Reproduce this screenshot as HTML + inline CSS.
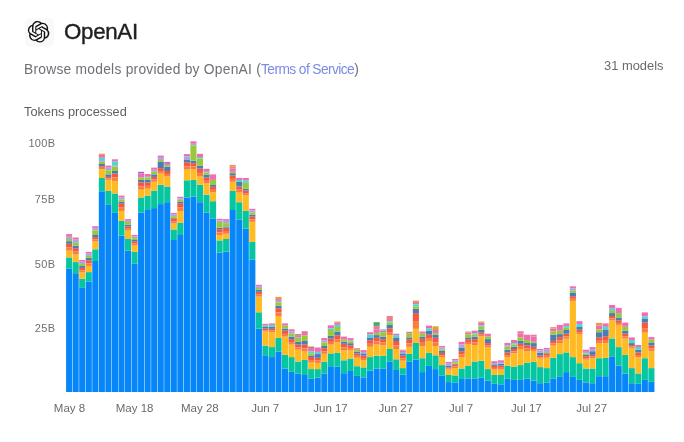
<!DOCTYPE html>
<html><head><meta charset="utf-8">
<style>
html,body{margin:0;padding:0;background:#fff;}
body{width:684px;height:442px;overflow:hidden;position:relative;font-family:"Liberation Sans",sans-serif;}
.abs{position:absolute;white-space:nowrap;will-change:transform;}
#logobox{left:24.5px;top:17.5px;width:28.5px;height:28.5px;border-radius:5px;background:#f9f9f9;}
#title{left:63.6px;top:19.5px;font-size:22.3px;letter-spacing:-0.3px;color:#1f1f1f;-webkit-text-stroke:0.4px #1f1f1f;line-height:24px;}
#sub{left:24.3px;top:61px;font-size:13.8px;letter-spacing:0.25px;color:#6f6f77;line-height:17px;}
#sub span{color:#7b8ae4;letter-spacing:-0.6px;}
#count{right:20.3px;top:57.8px;font-size:12.9px;color:#6a6a70;line-height:15px;}
#tok{left:24.2px;top:104px;font-size:12.75px;color:#5f5f5f;line-height:15px;}
svg{position:absolute;left:0;top:0;will-change:transform;}
.yl{font-size:11px;fill:#6f6f6f;letter-spacing:0.3px;}
.xl{font-size:11.5px;fill:#6a6a6a;}
</style></head><body>
<div class="abs" id="logobox"></div>
<svg width="684" height="442" viewBox="0 0 684 442">
<g transform="translate(27.8,21) scale(0.9)"><path fill="#111" d="M22.2819 9.8211a5.9847 5.9847 0 0 0-.5157-4.9108 6.0462 6.0462 0 0 0-6.5098-2.9A6.0651 6.0651 0 0 0 4.9807 4.1818a5.9847 5.9847 0 0 0-3.9977 2.9 6.0462 6.0462 0 0 0 .7427 7.0966 5.98 5.98 0 0 0 .511 4.9107 6.051 6.051 0 0 0 6.5146 2.9001A5.9847 5.9847 0 0 0 13.2599 24a6.0557 6.0557 0 0 0 5.7718-4.2058 5.9894 5.9894 0 0 0 3.9977-2.9001 6.0557 6.0557 0 0 0-.7475-7.0729zm-9.022 12.6081a4.4755 4.4755 0 0 1-2.8764-1.0408l.1419-.0804 4.7783-2.7582a.7948.7948 0 0 0 .3927-.6813v-6.7369l2.02 1.1686a.071.071 0 0 1 .038.052v5.5826a4.504 4.504 0 0 1-4.4945 4.4944zm-9.6607-4.1254a4.4708 4.4708 0 0 1-.5346-3.0137l.142.0852 4.783 2.7582a.7712.7712 0 0 0 .7806 0l5.8428-3.3685v2.3324a.0804.0804 0 0 1-.0332.0615L9.74 19.9502a4.4992 4.4992 0 0 1-6.1408-1.6464zM2.3408 7.8956a4.485 4.485 0 0 1 2.3655-1.9728V11.6a.7664.7664 0 0 0 .3879.6765l5.8144 3.3543-2.0201 1.1685a.0757.0757 0 0 1-.071 0l-4.8303-2.7865A4.504 4.504 0 0 1 2.3408 7.872zm16.5963 3.8558L13.1038 8.364 15.1192 7.2a.0757.0757 0 0 1 .071 0l4.8303 2.7913a4.4944 4.4944 0 0 1-.6765 8.1042v-5.6772a.79.79 0 0 0-.407-.667zm2.0107-3.0231l-.142-.0852-4.7735-2.7818a.7759.7759 0 0 0-.7854 0L9.409 9.2297V6.8974a.0662.0662 0 0 1 .0284-.0615l4.8303-2.7866a4.4992 4.4992 0 0 1 6.6802 4.66zM8.3065 12.863l-2.02-1.1638a.0804.0804 0 0 1-.038-.0567V6.0742a4.4992 4.4992 0 0 1 7.3757-3.4537l-.142.0805L8.704 5.459a.7948.7948 0 0 0-.3927.6813zm1.0976-2.3654l2.602-1.4998 2.6069 1.4998v2.9994l-2.5974 1.5-2.6067-1.5Z"/></g>
<g font-family="Liberation Sans, sans-serif">
<text class="yl" x="55.3" y="147" text-anchor="end">100B</text>
<text class="yl" x="55.3" y="203" text-anchor="end">75B</text>
<text class="yl" x="55.3" y="267.5" text-anchor="end">50B</text>
<text class="yl" x="55.3" y="332" text-anchor="end">25B</text>
<text class="xl" x="69.5" y="412" text-anchor="middle">May 8</text>
<text class="xl" x="134.6" y="412" text-anchor="middle">May 18</text>
<text class="xl" x="199.9" y="412" text-anchor="middle">May 28</text>
<text class="xl" x="265.2" y="412" text-anchor="middle">Jun 7</text>
<text class="xl" x="330.5" y="412" text-anchor="middle">Jun 17</text>
<text class="xl" x="395.8" y="412" text-anchor="middle">Jun 27</text>
<text class="xl" x="461.1" y="412" text-anchor="middle">Jul 7</text>
<text class="xl" x="526.4" y="412" text-anchor="middle">Jul 17</text>
<text class="xl" x="591.7" y="412" text-anchor="middle">Jul 27</text>
</g>
<g>
<rect x="66.10" y="268.80" width="6.1" height="123.20" fill="#0686f8"/>
<rect x="66.10" y="257.40" width="6.1" height="11.40" fill="#05c6a0"/>
<rect x="66.10" y="250.70" width="6.1" height="6.70" fill="#ffbb24"/>
<rect x="66.10" y="243.80" width="6.1" height="3.79" fill="#f4593f"/>
<rect x="66.10" y="247.59" width="6.1" height="3.10" fill="#fa7d3d"/>
<rect x="66.10" y="241.20" width="6.1" height="2.60" fill="#4b7cb2"/>
<rect x="66.10" y="234.10" width="6.1" height="2.70" fill="#f26cb4"/>
<rect x="66.10" y="236.80" width="6.1" height="2.20" fill="#a7a9dc"/>
<rect x="66.10" y="239.00" width="6.1" height="2.20" fill="#96c93d"/>
<rect x="72.64" y="273.20" width="6.1" height="118.80" fill="#0686f8"/>
<rect x="72.64" y="262.10" width="6.1" height="11.10" fill="#05c6a0"/>
<rect x="72.64" y="254.40" width="6.1" height="7.70" fill="#ffbb24"/>
<rect x="72.64" y="248.20" width="6.1" height="3.41" fill="#f4593f"/>
<rect x="72.64" y="251.61" width="6.1" height="2.79" fill="#fa7d3d"/>
<rect x="72.64" y="245.60" width="6.1" height="2.60" fill="#4b7cb2"/>
<rect x="72.64" y="237.50" width="6.1" height="2.20" fill="#f26cb4"/>
<rect x="72.64" y="239.70" width="6.1" height="3.20" fill="#a7a9dc"/>
<rect x="72.64" y="242.90" width="6.1" height="2.70" fill="#96c93d"/>
<rect x="79.18" y="287.90" width="6.1" height="104.10" fill="#0686f8"/>
<rect x="79.18" y="278.70" width="6.1" height="9.20" fill="#05c6a0"/>
<rect x="79.18" y="272.40" width="6.1" height="6.30" fill="#ffbb24"/>
<rect x="79.18" y="267.90" width="6.1" height="2.48" fill="#f4593f"/>
<rect x="79.18" y="270.38" width="6.1" height="2.02" fill="#fa7d3d"/>
<rect x="79.18" y="265.90" width="6.1" height="2.00" fill="#4b7cb2"/>
<rect x="79.18" y="260.00" width="6.1" height="1.80" fill="#f26cb4"/>
<rect x="79.18" y="261.80" width="6.1" height="2.20" fill="#a7a9dc"/>
<rect x="79.18" y="264.00" width="6.1" height="1.90" fill="#96c93d"/>
<rect x="85.73" y="281.60" width="6.1" height="110.40" fill="#0686f8"/>
<rect x="85.73" y="272.10" width="6.1" height="9.50" fill="#05c6a0"/>
<rect x="85.73" y="265.90" width="6.1" height="6.20" fill="#ffbb24"/>
<rect x="85.73" y="260.30" width="6.1" height="3.08" fill="#f4593f"/>
<rect x="85.73" y="263.38" width="6.1" height="2.52" fill="#fa7d3d"/>
<rect x="85.73" y="257.60" width="6.1" height="2.70" fill="#4b7cb2"/>
<rect x="85.73" y="251.90" width="6.1" height="1.80" fill="#f26cb4"/>
<rect x="85.73" y="253.70" width="6.1" height="2.20" fill="#a7a9dc"/>
<rect x="85.73" y="255.90" width="6.1" height="1.70" fill="#96c93d"/>
<rect x="92.27" y="261.00" width="6.1" height="131.00" fill="#0686f8"/>
<rect x="92.27" y="249.30" width="6.1" height="11.70" fill="#05c6a0"/>
<rect x="92.27" y="241.50" width="6.1" height="7.80" fill="#ffbb24"/>
<rect x="92.27" y="237.10" width="6.1" height="2.42" fill="#f4593f"/>
<rect x="92.27" y="239.52" width="6.1" height="1.98" fill="#fa7d3d"/>
<rect x="92.27" y="235.00" width="6.1" height="2.10" fill="#4b7cb2"/>
<rect x="92.27" y="226.20" width="6.1" height="2.00" fill="#f26cb4"/>
<rect x="92.27" y="228.20" width="6.1" height="2.40" fill="#a7a9dc"/>
<rect x="92.27" y="230.60" width="6.1" height="4.40" fill="#96c93d"/>
<rect x="98.81" y="191.30" width="6.1" height="200.70" fill="#0686f8"/>
<rect x="98.81" y="178.00" width="6.1" height="13.30" fill="#05c6a0"/>
<rect x="98.81" y="169.10" width="6.1" height="8.90" fill="#ffbb24"/>
<rect x="98.81" y="166.30" width="6.1" height="1.54" fill="#f4593f"/>
<rect x="98.81" y="167.84" width="6.1" height="1.26" fill="#fa7d3d"/>
<rect x="98.81" y="164.00" width="6.1" height="2.30" fill="#4b7cb2"/>
<rect x="98.81" y="153.70" width="6.1" height="1.20" fill="#d9a33b"/>
<rect x="98.81" y="154.90" width="6.1" height="2.90" fill="#f26cb4"/>
<rect x="98.81" y="157.80" width="6.1" height="2.20" fill="#4fd6cf"/>
<rect x="98.81" y="160.00" width="6.1" height="1.80" fill="#a7a9dc"/>
<rect x="98.81" y="161.80" width="6.1" height="2.20" fill="#96c93d"/>
<rect x="105.35" y="204.90" width="6.1" height="187.10" fill="#0686f8"/>
<rect x="105.35" y="190.90" width="6.1" height="14.00" fill="#05c6a0"/>
<rect x="105.35" y="179.90" width="6.1" height="11.00" fill="#ffbb24"/>
<rect x="105.35" y="176.90" width="6.1" height="1.65" fill="#f4593f"/>
<rect x="105.35" y="178.55" width="6.1" height="1.35" fill="#fa7d3d"/>
<rect x="105.35" y="174.40" width="6.1" height="2.50" fill="#4b7cb2"/>
<rect x="105.35" y="165.60" width="6.1" height="2.10" fill="#f26cb4"/>
<rect x="105.35" y="167.70" width="6.1" height="2.60" fill="#a7a9dc"/>
<rect x="105.35" y="170.30" width="6.1" height="4.10" fill="#96c93d"/>
<rect x="111.89" y="212.90" width="6.1" height="179.10" fill="#0686f8"/>
<rect x="111.89" y="193.50" width="6.1" height="19.40" fill="#05c6a0"/>
<rect x="111.89" y="180.90" width="6.1" height="12.60" fill="#ffbb24"/>
<rect x="111.89" y="173.50" width="6.1" height="4.07" fill="#f4593f"/>
<rect x="111.89" y="177.57" width="6.1" height="3.33" fill="#fa7d3d"/>
<rect x="111.89" y="171.00" width="6.1" height="2.50" fill="#4b7cb2"/>
<rect x="111.89" y="159.30" width="6.1" height="2.20" fill="#f26cb4"/>
<rect x="111.89" y="161.50" width="6.1" height="3.60" fill="#4fd6cf"/>
<rect x="111.89" y="165.10" width="6.1" height="1.50" fill="#a7a9dc"/>
<rect x="111.89" y="166.60" width="6.1" height="4.40" fill="#96c93d"/>
<rect x="118.44" y="235.70" width="6.1" height="156.30" fill="#0686f8"/>
<rect x="118.44" y="220.90" width="6.1" height="14.80" fill="#05c6a0"/>
<rect x="118.44" y="211.00" width="6.1" height="9.90" fill="#ffbb24"/>
<rect x="118.44" y="203.70" width="6.1" height="4.02" fill="#f4593f"/>
<rect x="118.44" y="207.72" width="6.1" height="3.28" fill="#fa7d3d"/>
<rect x="118.44" y="201.80" width="6.1" height="1.90" fill="#4b7cb2"/>
<rect x="118.44" y="195.60" width="6.1" height="2.00" fill="#f26cb4"/>
<rect x="118.44" y="197.60" width="6.1" height="1.80" fill="#a7a9dc"/>
<rect x="118.44" y="199.40" width="6.1" height="2.40" fill="#96c93d"/>
<rect x="124.98" y="250.70" width="6.1" height="141.30" fill="#0686f8"/>
<rect x="124.98" y="239.00" width="6.1" height="11.70" fill="#05c6a0"/>
<rect x="124.98" y="230.60" width="6.1" height="8.40" fill="#ffbb24"/>
<rect x="124.98" y="226.50" width="6.1" height="2.25" fill="#f4593f"/>
<rect x="124.98" y="228.75" width="6.1" height="1.84" fill="#fa7d3d"/>
<rect x="124.98" y="224.70" width="6.1" height="1.80" fill="#4b7cb2"/>
<rect x="124.98" y="219.10" width="6.1" height="1.70" fill="#f26cb4"/>
<rect x="124.98" y="220.80" width="6.1" height="1.20" fill="#a7a9dc"/>
<rect x="124.98" y="222.00" width="6.1" height="2.70" fill="#96c93d"/>
<rect x="131.52" y="263.80" width="6.1" height="128.20" fill="#0686f8"/>
<rect x="131.52" y="251.80" width="6.1" height="12.00" fill="#05c6a0"/>
<rect x="131.52" y="245.60" width="6.1" height="6.20" fill="#ffbb24"/>
<rect x="131.52" y="241.20" width="6.1" height="2.42" fill="#f4593f"/>
<rect x="131.52" y="243.62" width="6.1" height="1.98" fill="#fa7d3d"/>
<rect x="131.52" y="240.00" width="6.1" height="1.20" fill="#4b7cb2"/>
<rect x="131.52" y="235.00" width="6.1" height="1.60" fill="#f26cb4"/>
<rect x="131.52" y="236.60" width="6.1" height="1.60" fill="#a7a9dc"/>
<rect x="131.52" y="238.20" width="6.1" height="1.80" fill="#96c93d"/>
<rect x="138.06" y="212.50" width="6.1" height="179.50" fill="#0686f8"/>
<rect x="138.06" y="197.50" width="6.1" height="15.00" fill="#05c6a0"/>
<rect x="138.06" y="189.70" width="6.1" height="7.80" fill="#ffbb24"/>
<rect x="138.06" y="182.40" width="6.1" height="4.01" fill="#f4593f"/>
<rect x="138.06" y="186.41" width="6.1" height="3.28" fill="#fa7d3d"/>
<rect x="138.06" y="179.90" width="6.1" height="2.50" fill="#4b7cb2"/>
<rect x="138.06" y="171.80" width="6.1" height="1.70" fill="#8f6be0"/>
<rect x="138.06" y="173.50" width="6.1" height="4.10" fill="#f26cb4"/>
<rect x="138.06" y="177.60" width="6.1" height="2.30" fill="#96c93d"/>
<rect x="144.60" y="210.00" width="6.1" height="182.00" fill="#0686f8"/>
<rect x="144.60" y="195.60" width="6.1" height="14.40" fill="#05c6a0"/>
<rect x="144.60" y="188.70" width="6.1" height="6.90" fill="#ffbb24"/>
<rect x="144.60" y="182.40" width="6.1" height="3.47" fill="#f4593f"/>
<rect x="144.60" y="185.87" width="6.1" height="2.83" fill="#fa7d3d"/>
<rect x="144.60" y="179.90" width="6.1" height="2.50" fill="#4b7cb2"/>
<rect x="144.60" y="174.00" width="6.1" height="2.00" fill="#f26cb4"/>
<rect x="144.60" y="176.00" width="6.1" height="1.60" fill="#a7a9dc"/>
<rect x="144.60" y="177.60" width="6.1" height="2.30" fill="#96c93d"/>
<rect x="151.15" y="208.10" width="6.1" height="183.90" fill="#0686f8"/>
<rect x="151.15" y="190.60" width="6.1" height="17.50" fill="#05c6a0"/>
<rect x="151.15" y="181.80" width="6.1" height="8.80" fill="#ffbb24"/>
<rect x="151.15" y="176.90" width="6.1" height="2.69" fill="#f4593f"/>
<rect x="151.15" y="179.59" width="6.1" height="2.21" fill="#fa7d3d"/>
<rect x="151.15" y="174.40" width="6.1" height="2.50" fill="#4b7cb2"/>
<rect x="151.15" y="167.60" width="6.1" height="2.20" fill="#f26cb4"/>
<rect x="151.15" y="169.80" width="6.1" height="2.00" fill="#a7a9dc"/>
<rect x="151.15" y="171.80" width="6.1" height="2.60" fill="#96c93d"/>
<rect x="157.69" y="204.10" width="6.1" height="187.90" fill="#0686f8"/>
<rect x="157.69" y="184.70" width="6.1" height="19.40" fill="#05c6a0"/>
<rect x="157.69" y="173.50" width="6.1" height="11.20" fill="#ffbb24"/>
<rect x="157.69" y="168.10" width="6.1" height="2.97" fill="#f4593f"/>
<rect x="157.69" y="171.07" width="6.1" height="2.43" fill="#fa7d3d"/>
<rect x="157.69" y="161.50" width="6.1" height="6.60" fill="#4b7cb2"/>
<rect x="157.69" y="155.60" width="6.1" height="2.20" fill="#f26cb4"/>
<rect x="157.69" y="157.80" width="6.1" height="2.20" fill="#a7a9dc"/>
<rect x="157.69" y="160.00" width="6.1" height="1.50" fill="#96c93d"/>
<rect x="164.23" y="202.20" width="6.1" height="189.80" fill="#0686f8"/>
<rect x="164.23" y="186.50" width="6.1" height="15.70" fill="#05c6a0"/>
<rect x="164.23" y="176.50" width="6.1" height="10.00" fill="#ffbb24"/>
<rect x="164.23" y="171.00" width="6.1" height="3.03" fill="#f4593f"/>
<rect x="164.23" y="174.03" width="6.1" height="2.47" fill="#fa7d3d"/>
<rect x="164.23" y="166.60" width="6.1" height="4.40" fill="#4b7cb2"/>
<rect x="164.23" y="161.90" width="6.1" height="1.00" fill="#8f6be0"/>
<rect x="164.23" y="162.90" width="6.1" height="2.20" fill="#f26cb4"/>
<rect x="164.23" y="165.10" width="6.1" height="1.50" fill="#96c93d"/>
<rect x="170.77" y="240.00" width="6.1" height="152.00" fill="#0686f8"/>
<rect x="170.77" y="229.40" width="6.1" height="10.60" fill="#05c6a0"/>
<rect x="170.77" y="223.50" width="6.1" height="5.90" fill="#ffbb24"/>
<rect x="170.77" y="218.40" width="6.1" height="2.81" fill="#f4593f"/>
<rect x="170.77" y="221.21" width="6.1" height="2.29" fill="#fa7d3d"/>
<rect x="170.77" y="218.00" width="6.1" height="0.40" fill="#4b7cb2"/>
<rect x="170.77" y="212.90" width="6.1" height="1.70" fill="#f26cb4"/>
<rect x="170.77" y="214.60" width="6.1" height="1.60" fill="#a7a9dc"/>
<rect x="170.77" y="216.20" width="6.1" height="1.80" fill="#96c93d"/>
<rect x="177.31" y="235.00" width="6.1" height="157.00" fill="#0686f8"/>
<rect x="177.31" y="222.80" width="6.1" height="12.20" fill="#05c6a0"/>
<rect x="177.31" y="211.00" width="6.1" height="11.80" fill="#ffbb24"/>
<rect x="177.31" y="203.20" width="6.1" height="4.29" fill="#f4593f"/>
<rect x="177.31" y="207.49" width="6.1" height="3.51" fill="#fa7d3d"/>
<rect x="177.31" y="201.50" width="6.1" height="1.70" fill="#4b7cb2"/>
<rect x="177.31" y="196.80" width="6.1" height="1.70" fill="#f26cb4"/>
<rect x="177.31" y="198.50" width="6.1" height="1.30" fill="#a7a9dc"/>
<rect x="177.31" y="199.80" width="6.1" height="1.70" fill="#96c93d"/>
<rect x="183.86" y="197.50" width="6.1" height="194.50" fill="#0686f8"/>
<rect x="183.86" y="180.30" width="6.1" height="17.20" fill="#05c6a0"/>
<rect x="183.86" y="169.60" width="6.1" height="10.70" fill="#ffbb24"/>
<rect x="183.86" y="162.20" width="6.1" height="4.07" fill="#f4593f"/>
<rect x="183.86" y="166.27" width="6.1" height="3.33" fill="#fa7d3d"/>
<rect x="183.86" y="160.00" width="6.1" height="2.20" fill="#4b7cb2"/>
<rect x="183.86" y="154.10" width="6.1" height="2.20" fill="#f26cb4"/>
<rect x="183.86" y="156.30" width="6.1" height="3.70" fill="#a7a9dc"/>
<rect x="190.40" y="196.50" width="6.1" height="195.50" fill="#0686f8"/>
<rect x="190.40" y="179.90" width="6.1" height="16.60" fill="#05c6a0"/>
<rect x="190.40" y="169.10" width="6.1" height="10.80" fill="#ffbb24"/>
<rect x="190.40" y="163.20" width="6.1" height="3.25" fill="#f4593f"/>
<rect x="190.40" y="166.44" width="6.1" height="2.66" fill="#fa7d3d"/>
<rect x="190.40" y="160.70" width="6.1" height="2.50" fill="#4b7cb2"/>
<rect x="190.40" y="141.30" width="6.1" height="2.50" fill="#f26cb4"/>
<rect x="190.40" y="143.80" width="6.1" height="1.50" fill="#a7a9dc"/>
<rect x="190.40" y="145.30" width="6.1" height="15.40" fill="#96c93d"/>
<rect x="196.94" y="202.20" width="6.1" height="189.80" fill="#0686f8"/>
<rect x="196.94" y="184.70" width="6.1" height="17.50" fill="#05c6a0"/>
<rect x="196.94" y="176.50" width="6.1" height="8.20" fill="#ffbb24"/>
<rect x="196.94" y="168.50" width="6.1" height="4.40" fill="#f4593f"/>
<rect x="196.94" y="172.90" width="6.1" height="3.60" fill="#fa7d3d"/>
<rect x="196.94" y="165.60" width="6.1" height="2.90" fill="#4b7cb2"/>
<rect x="196.94" y="153.80" width="6.1" height="3.20" fill="#f26cb4"/>
<rect x="196.94" y="157.00" width="6.1" height="1.50" fill="#4fd6cf"/>
<rect x="196.94" y="158.50" width="6.1" height="7.10" fill="#96c93d"/>
<rect x="203.48" y="212.50" width="6.1" height="179.50" fill="#0686f8"/>
<rect x="203.48" y="194.60" width="6.1" height="17.90" fill="#05c6a0"/>
<rect x="203.48" y="183.50" width="6.1" height="11.10" fill="#ffbb24"/>
<rect x="203.48" y="177.60" width="6.1" height="3.25" fill="#f4593f"/>
<rect x="203.48" y="180.84" width="6.1" height="2.66" fill="#fa7d3d"/>
<rect x="203.48" y="174.70" width="6.1" height="2.90" fill="#4b7cb2"/>
<rect x="203.48" y="168.80" width="6.1" height="2.20" fill="#f26cb4"/>
<rect x="203.48" y="171.00" width="6.1" height="1.50" fill="#a7a9dc"/>
<rect x="203.48" y="172.50" width="6.1" height="2.20" fill="#96c93d"/>
<rect x="210.02" y="218.80" width="6.1" height="173.20" fill="#0686f8"/>
<rect x="210.02" y="201.20" width="6.1" height="17.60" fill="#05c6a0"/>
<rect x="210.02" y="192.40" width="6.1" height="8.80" fill="#ffbb24"/>
<rect x="210.02" y="186.80" width="6.1" height="3.08" fill="#f4593f"/>
<rect x="210.02" y="189.88" width="6.1" height="2.52" fill="#fa7d3d"/>
<rect x="210.02" y="185.00" width="6.1" height="1.80" fill="#4b7cb2"/>
<rect x="210.02" y="174.40" width="6.1" height="5.50" fill="#f26cb4"/>
<rect x="210.02" y="179.90" width="6.1" height="5.10" fill="#96c93d"/>
<rect x="216.57" y="252.60" width="6.1" height="139.40" fill="#0686f8"/>
<rect x="216.57" y="240.40" width="6.1" height="12.20" fill="#05c6a0"/>
<rect x="216.57" y="235.00" width="6.1" height="5.40" fill="#ffbb24"/>
<rect x="216.57" y="229.10" width="6.1" height="3.25" fill="#f4593f"/>
<rect x="216.57" y="232.34" width="6.1" height="2.66" fill="#fa7d3d"/>
<rect x="216.57" y="227.60" width="6.1" height="1.50" fill="#4b7cb2"/>
<rect x="216.57" y="218.80" width="6.1" height="1.80" fill="#f26cb4"/>
<rect x="216.57" y="220.60" width="6.1" height="1.40" fill="#a7a9dc"/>
<rect x="216.57" y="222.00" width="6.1" height="5.60" fill="#96c93d"/>
<rect x="223.11" y="251.50" width="6.1" height="140.50" fill="#0686f8"/>
<rect x="223.11" y="239.00" width="6.1" height="12.50" fill="#05c6a0"/>
<rect x="223.11" y="233.80" width="6.1" height="5.20" fill="#ffbb24"/>
<rect x="223.11" y="227.60" width="6.1" height="3.41" fill="#f4593f"/>
<rect x="223.11" y="231.01" width="6.1" height="2.79" fill="#fa7d3d"/>
<rect x="223.11" y="226.50" width="6.1" height="1.10" fill="#4b7cb2"/>
<rect x="223.11" y="219.10" width="6.1" height="1.80" fill="#f26cb4"/>
<rect x="223.11" y="220.90" width="6.1" height="2.30" fill="#a7a9dc"/>
<rect x="223.11" y="223.20" width="6.1" height="3.30" fill="#96c93d"/>
<rect x="229.65" y="210.00" width="6.1" height="182.00" fill="#0686f8"/>
<rect x="229.65" y="190.90" width="6.1" height="19.10" fill="#05c6a0"/>
<rect x="229.65" y="181.80" width="6.1" height="9.10" fill="#ffbb24"/>
<rect x="229.65" y="175.40" width="6.1" height="3.52" fill="#f4593f"/>
<rect x="229.65" y="178.92" width="6.1" height="2.88" fill="#fa7d3d"/>
<rect x="229.65" y="173.20" width="6.1" height="2.20" fill="#4b7cb2"/>
<rect x="229.65" y="164.90" width="6.1" height="1.60" fill="#d9a33b"/>
<rect x="229.65" y="166.50" width="6.1" height="2.00" fill="#f07d8a"/>
<rect x="229.65" y="168.50" width="6.1" height="3.30" fill="#f26cb4"/>
<rect x="229.65" y="171.80" width="6.1" height="1.40" fill="#96c93d"/>
<rect x="236.19" y="219.40" width="6.1" height="172.60" fill="#0686f8"/>
<rect x="236.19" y="202.20" width="6.1" height="17.20" fill="#05c6a0"/>
<rect x="236.19" y="192.40" width="6.1" height="9.80" fill="#ffbb24"/>
<rect x="236.19" y="186.50" width="6.1" height="3.25" fill="#f4593f"/>
<rect x="236.19" y="189.75" width="6.1" height="2.66" fill="#fa7d3d"/>
<rect x="236.19" y="182.00" width="6.1" height="4.50" fill="#4b7cb2"/>
<rect x="236.19" y="177.90" width="6.1" height="2.10" fill="#f26cb4"/>
<rect x="236.19" y="180.00" width="6.1" height="2.00" fill="#4fd6cf"/>
<rect x="242.73" y="228.70" width="6.1" height="163.30" fill="#0686f8"/>
<rect x="242.73" y="210.60" width="6.1" height="18.10" fill="#05c6a0"/>
<rect x="242.73" y="195.30" width="6.1" height="15.30" fill="#ffbb24"/>
<rect x="242.73" y="190.60" width="6.1" height="2.59" fill="#f4593f"/>
<rect x="242.73" y="193.19" width="6.1" height="2.12" fill="#fa7d3d"/>
<rect x="242.73" y="188.70" width="6.1" height="1.90" fill="#4b7cb2"/>
<rect x="242.73" y="178.00" width="6.1" height="2.50" fill="#f26cb4"/>
<rect x="242.73" y="180.50" width="6.1" height="2.30" fill="#4fd6cf"/>
<rect x="242.73" y="182.80" width="6.1" height="5.90" fill="#96c93d"/>
<rect x="249.28" y="259.50" width="6.1" height="132.50" fill="#0686f8"/>
<rect x="249.28" y="241.90" width="6.1" height="17.60" fill="#05c6a0"/>
<rect x="249.28" y="221.80" width="6.1" height="20.10" fill="#ffbb24"/>
<rect x="249.28" y="216.50" width="6.1" height="2.92" fill="#f4593f"/>
<rect x="249.28" y="219.42" width="6.1" height="2.38" fill="#fa7d3d"/>
<rect x="249.28" y="214.70" width="6.1" height="1.80" fill="#4b7cb2"/>
<rect x="249.28" y="208.80" width="6.1" height="1.80" fill="#f26cb4"/>
<rect x="249.28" y="210.60" width="6.1" height="2.00" fill="#a7a9dc"/>
<rect x="249.28" y="212.60" width="6.1" height="2.10" fill="#96c93d"/>
<rect x="255.82" y="328.60" width="6.1" height="63.40" fill="#0686f8"/>
<rect x="255.82" y="312.30" width="6.1" height="16.30" fill="#05c6a0"/>
<rect x="255.82" y="296.60" width="6.1" height="15.70" fill="#ffbb24"/>
<rect x="255.82" y="291.80" width="6.1" height="2.64" fill="#f4593f"/>
<rect x="255.82" y="294.44" width="6.1" height="2.16" fill="#fa7d3d"/>
<rect x="255.82" y="289.60" width="6.1" height="2.20" fill="#4b7cb2"/>
<rect x="255.82" y="284.80" width="6.1" height="1.80" fill="#f26cb4"/>
<rect x="255.82" y="286.60" width="6.1" height="1.40" fill="#a7a9dc"/>
<rect x="255.82" y="288.00" width="6.1" height="1.60" fill="#96c93d"/>
<rect x="262.36" y="355.30" width="6.1" height="36.70" fill="#0686f8"/>
<rect x="262.36" y="345.60" width="6.1" height="9.70" fill="#05c6a0"/>
<rect x="262.36" y="331.50" width="6.1" height="14.10" fill="#ffbb24"/>
<rect x="262.36" y="328.50" width="6.1" height="1.65" fill="#f4593f"/>
<rect x="262.36" y="330.15" width="6.1" height="1.35" fill="#fa7d3d"/>
<rect x="262.36" y="327.00" width="6.1" height="1.50" fill="#4b7cb2"/>
<rect x="262.36" y="323.80" width="6.1" height="1.80" fill="#f26cb4"/>
<rect x="262.36" y="325.60" width="6.1" height="1.40" fill="#4fd6cf"/>
<rect x="268.90" y="357.10" width="6.1" height="34.90" fill="#0686f8"/>
<rect x="268.90" y="347.10" width="6.1" height="10.00" fill="#05c6a0"/>
<rect x="268.90" y="332.20" width="6.1" height="14.90" fill="#ffbb24"/>
<rect x="268.90" y="328.80" width="6.1" height="1.87" fill="#f4593f"/>
<rect x="268.90" y="330.67" width="6.1" height="1.53" fill="#fa7d3d"/>
<rect x="268.90" y="326.80" width="6.1" height="2.00" fill="#4b7cb2"/>
<rect x="268.90" y="323.40" width="6.1" height="1.50" fill="#f26cb4"/>
<rect x="268.90" y="324.90" width="6.1" height="1.90" fill="#4fd6cf"/>
<rect x="275.44" y="351.50" width="6.1" height="40.50" fill="#0686f8"/>
<rect x="275.44" y="337.90" width="6.1" height="13.60" fill="#05c6a0"/>
<rect x="275.44" y="316.00" width="6.1" height="21.90" fill="#ffbb24"/>
<rect x="275.44" y="308.20" width="6.1" height="4.29" fill="#f4593f"/>
<rect x="275.44" y="312.49" width="6.1" height="3.51" fill="#fa7d3d"/>
<rect x="275.44" y="305.70" width="6.1" height="2.50" fill="#4b7cb2"/>
<rect x="275.44" y="296.90" width="6.1" height="2.20" fill="#d9a33b"/>
<rect x="275.44" y="299.10" width="6.1" height="1.80" fill="#f26cb4"/>
<rect x="275.44" y="300.90" width="6.1" height="1.50" fill="#a7a9dc"/>
<rect x="275.44" y="302.40" width="6.1" height="3.30" fill="#96c93d"/>
<rect x="281.99" y="368.50" width="6.1" height="23.50" fill="#0686f8"/>
<rect x="281.99" y="354.90" width="6.1" height="13.60" fill="#05c6a0"/>
<rect x="281.99" y="336.60" width="6.1" height="18.30" fill="#ffbb24"/>
<rect x="281.99" y="330.70" width="6.1" height="3.25" fill="#f4593f"/>
<rect x="281.99" y="333.94" width="6.1" height="2.66" fill="#fa7d3d"/>
<rect x="281.99" y="328.50" width="6.1" height="2.20" fill="#4b7cb2"/>
<rect x="281.99" y="323.40" width="6.1" height="2.20" fill="#f26cb4"/>
<rect x="281.99" y="325.60" width="6.1" height="2.90" fill="#96c93d"/>
<rect x="288.53" y="371.80" width="6.1" height="20.20" fill="#0686f8"/>
<rect x="288.53" y="357.10" width="6.1" height="14.70" fill="#05c6a0"/>
<rect x="288.53" y="344.60" width="6.1" height="12.50" fill="#ffbb24"/>
<rect x="288.53" y="339.10" width="6.1" height="3.02" fill="#f4593f"/>
<rect x="288.53" y="342.12" width="6.1" height="2.48" fill="#fa7d3d"/>
<rect x="288.53" y="336.60" width="6.1" height="2.50" fill="#4b7cb2"/>
<rect x="288.53" y="329.30" width="6.1" height="2.20" fill="#f26cb4"/>
<rect x="288.53" y="331.50" width="6.1" height="2.20" fill="#a7a9dc"/>
<rect x="288.53" y="333.70" width="6.1" height="2.90" fill="#96c93d"/>
<rect x="295.07" y="373.50" width="6.1" height="18.50" fill="#0686f8"/>
<rect x="295.07" y="361.50" width="6.1" height="12.00" fill="#05c6a0"/>
<rect x="295.07" y="349.70" width="6.1" height="11.80" fill="#ffbb24"/>
<rect x="295.07" y="344.60" width="6.1" height="2.81" fill="#f4593f"/>
<rect x="295.07" y="347.41" width="6.1" height="2.29" fill="#fa7d3d"/>
<rect x="295.07" y="341.70" width="6.1" height="2.90" fill="#4b7cb2"/>
<rect x="295.07" y="334.10" width="6.1" height="1.00" fill="#b58d5a"/>
<rect x="295.07" y="335.10" width="6.1" height="2.30" fill="#f26cb4"/>
<rect x="295.07" y="337.40" width="6.1" height="4.30" fill="#96c93d"/>
<rect x="301.61" y="375.00" width="6.1" height="17.00" fill="#0686f8"/>
<rect x="301.61" y="360.00" width="6.1" height="15.00" fill="#05c6a0"/>
<rect x="301.61" y="351.50" width="6.1" height="8.50" fill="#ffbb24"/>
<rect x="301.61" y="344.60" width="6.1" height="3.80" fill="#f4593f"/>
<rect x="301.61" y="348.40" width="6.1" height="3.10" fill="#fa7d3d"/>
<rect x="301.61" y="341.00" width="6.1" height="3.60" fill="#4b7cb2"/>
<rect x="301.61" y="331.20" width="6.1" height="4.40" fill="#f26cb4"/>
<rect x="301.61" y="335.60" width="6.1" height="5.40" fill="#96c93d"/>
<rect x="308.15" y="378.40" width="6.1" height="13.60" fill="#0686f8"/>
<rect x="308.15" y="369.10" width="6.1" height="9.30" fill="#05c6a0"/>
<rect x="308.15" y="362.60" width="6.1" height="6.50" fill="#ffbb24"/>
<rect x="308.15" y="357.00" width="6.1" height="3.08" fill="#f4593f"/>
<rect x="308.15" y="360.08" width="6.1" height="2.52" fill="#fa7d3d"/>
<rect x="308.15" y="355.50" width="6.1" height="1.50" fill="#4b7cb2"/>
<rect x="308.15" y="346.50" width="6.1" height="1.50" fill="#b58d5a"/>
<rect x="308.15" y="348.00" width="6.1" height="3.50" fill="#f26cb4"/>
<rect x="308.15" y="351.50" width="6.1" height="1.90" fill="#4fd6cf"/>
<rect x="308.15" y="353.40" width="6.1" height="2.10" fill="#96c93d"/>
<rect x="314.70" y="377.60" width="6.1" height="14.40" fill="#0686f8"/>
<rect x="314.70" y="369.10" width="6.1" height="8.50" fill="#05c6a0"/>
<rect x="314.70" y="362.90" width="6.1" height="6.20" fill="#ffbb24"/>
<rect x="314.70" y="357.80" width="6.1" height="2.81" fill="#f4593f"/>
<rect x="314.70" y="360.61" width="6.1" height="2.29" fill="#fa7d3d"/>
<rect x="314.70" y="355.00" width="6.1" height="2.80" fill="#4b7cb2"/>
<rect x="314.70" y="347.50" width="6.1" height="4.40" fill="#f26cb4"/>
<rect x="314.70" y="351.90" width="6.1" height="2.10" fill="#4fd6cf"/>
<rect x="314.70" y="354.00" width="6.1" height="1.00" fill="#8f6be0"/>
<rect x="321.24" y="373.50" width="6.1" height="18.50" fill="#0686f8"/>
<rect x="321.24" y="361.80" width="6.1" height="11.70" fill="#05c6a0"/>
<rect x="321.24" y="353.80" width="6.1" height="8.00" fill="#ffbb24"/>
<rect x="321.24" y="348.20" width="6.1" height="3.08" fill="#f4593f"/>
<rect x="321.24" y="351.28" width="6.1" height="2.52" fill="#fa7d3d"/>
<rect x="321.24" y="346.00" width="6.1" height="2.20" fill="#4b7cb2"/>
<rect x="321.24" y="338.10" width="6.1" height="2.20" fill="#f26cb4"/>
<rect x="321.24" y="340.30" width="6.1" height="2.20" fill="#a7a9dc"/>
<rect x="321.24" y="342.50" width="6.1" height="3.50" fill="#96c93d"/>
<rect x="327.78" y="366.20" width="6.1" height="25.80" fill="#0686f8"/>
<rect x="327.78" y="353.40" width="6.1" height="12.80" fill="#05c6a0"/>
<rect x="327.78" y="344.60" width="6.1" height="8.80" fill="#ffbb24"/>
<rect x="327.78" y="338.60" width="6.1" height="3.30" fill="#f4593f"/>
<rect x="327.78" y="341.90" width="6.1" height="2.70" fill="#fa7d3d"/>
<rect x="327.78" y="335.90" width="6.1" height="2.70" fill="#4b7cb2"/>
<rect x="327.78" y="325.30" width="6.1" height="3.20" fill="#f26cb4"/>
<rect x="327.78" y="328.50" width="6.1" height="1.50" fill="#4fd6cf"/>
<rect x="327.78" y="330.00" width="6.1" height="5.90" fill="#96c93d"/>
<rect x="334.32" y="366.60" width="6.1" height="25.40" fill="#0686f8"/>
<rect x="334.32" y="352.90" width="6.1" height="13.70" fill="#05c6a0"/>
<rect x="334.32" y="342.40" width="6.1" height="10.50" fill="#ffbb24"/>
<rect x="334.32" y="335.30" width="6.1" height="3.90" fill="#f4593f"/>
<rect x="334.32" y="339.20" width="6.1" height="3.19" fill="#fa7d3d"/>
<rect x="334.32" y="331.50" width="6.1" height="3.80" fill="#4b7cb2"/>
<rect x="334.32" y="321.50" width="6.1" height="1.10" fill="#d9a33b"/>
<rect x="334.32" y="322.60" width="6.1" height="2.30" fill="#f26cb4"/>
<rect x="334.32" y="324.90" width="6.1" height="2.10" fill="#4fd6cf"/>
<rect x="334.32" y="327.00" width="6.1" height="4.50" fill="#96c93d"/>
<rect x="340.86" y="373.20" width="6.1" height="18.80" fill="#0686f8"/>
<rect x="340.86" y="360.30" width="6.1" height="12.90" fill="#05c6a0"/>
<rect x="340.86" y="350.40" width="6.1" height="9.90" fill="#ffbb24"/>
<rect x="340.86" y="343.80" width="6.1" height="3.63" fill="#f4593f"/>
<rect x="340.86" y="347.43" width="6.1" height="2.97" fill="#fa7d3d"/>
<rect x="340.86" y="341.60" width="6.1" height="2.20" fill="#4b7cb2"/>
<rect x="340.86" y="336.60" width="6.1" height="3.00" fill="#f26cb4"/>
<rect x="340.86" y="339.60" width="6.1" height="2.00" fill="#96c93d"/>
<rect x="347.41" y="371.00" width="6.1" height="21.00" fill="#0686f8"/>
<rect x="347.41" y="358.50" width="6.1" height="12.50" fill="#05c6a0"/>
<rect x="347.41" y="350.40" width="6.1" height="8.10" fill="#ffbb24"/>
<rect x="347.41" y="345.30" width="6.1" height="2.81" fill="#f4593f"/>
<rect x="347.41" y="348.11" width="6.1" height="2.29" fill="#fa7d3d"/>
<rect x="347.41" y="343.20" width="6.1" height="2.10" fill="#4b7cb2"/>
<rect x="347.41" y="338.10" width="6.1" height="2.20" fill="#f26cb4"/>
<rect x="347.41" y="340.30" width="6.1" height="0.90" fill="#a7a9dc"/>
<rect x="347.41" y="341.20" width="6.1" height="2.00" fill="#96c93d"/>
<rect x="353.95" y="375.90" width="6.1" height="16.10" fill="#0686f8"/>
<rect x="353.95" y="366.20" width="6.1" height="9.70" fill="#05c6a0"/>
<rect x="353.95" y="357.80" width="6.1" height="8.40" fill="#ffbb24"/>
<rect x="353.95" y="353.40" width="6.1" height="2.42" fill="#f4593f"/>
<rect x="353.95" y="355.82" width="6.1" height="1.98" fill="#fa7d3d"/>
<rect x="353.95" y="351.90" width="6.1" height="1.50" fill="#4b7cb2"/>
<rect x="353.95" y="348.20" width="6.1" height="1.50" fill="#f26cb4"/>
<rect x="353.95" y="349.70" width="6.1" height="2.20" fill="#96c93d"/>
<rect x="360.49" y="377.40" width="6.1" height="14.60" fill="#0686f8"/>
<rect x="360.49" y="367.40" width="6.1" height="10.00" fill="#05c6a0"/>
<rect x="360.49" y="360.00" width="6.1" height="7.40" fill="#ffbb24"/>
<rect x="360.49" y="355.60" width="6.1" height="2.42" fill="#f4593f"/>
<rect x="360.49" y="358.02" width="6.1" height="1.98" fill="#fa7d3d"/>
<rect x="360.49" y="353.40" width="6.1" height="2.20" fill="#4b7cb2"/>
<rect x="360.49" y="350.10" width="6.1" height="1.90" fill="#f26cb4"/>
<rect x="360.49" y="352.00" width="6.1" height="1.40" fill="#a7a9dc"/>
<rect x="367.03" y="370.60" width="6.1" height="21.40" fill="#0686f8"/>
<rect x="367.03" y="357.10" width="6.1" height="13.50" fill="#05c6a0"/>
<rect x="367.03" y="346.80" width="6.1" height="10.30" fill="#ffbb24"/>
<rect x="367.03" y="340.20" width="6.1" height="3.63" fill="#f4593f"/>
<rect x="367.03" y="343.83" width="6.1" height="2.97" fill="#fa7d3d"/>
<rect x="367.03" y="337.40" width="6.1" height="2.80" fill="#4b7cb2"/>
<rect x="367.03" y="332.20" width="6.1" height="2.20" fill="#f26cb4"/>
<rect x="367.03" y="334.40" width="6.1" height="3.00" fill="#4fd6cf"/>
<rect x="373.57" y="368.50" width="6.1" height="23.50" fill="#0686f8"/>
<rect x="373.57" y="355.60" width="6.1" height="12.90" fill="#05c6a0"/>
<rect x="373.57" y="344.60" width="6.1" height="11.00" fill="#ffbb24"/>
<rect x="373.57" y="337.80" width="6.1" height="3.74" fill="#f4593f"/>
<rect x="373.57" y="341.54" width="6.1" height="3.06" fill="#fa7d3d"/>
<rect x="373.57" y="335.10" width="6.1" height="2.70" fill="#4b7cb2"/>
<rect x="373.57" y="322.20" width="6.1" height="3.70" fill="#3cae6a"/>
<rect x="373.57" y="325.90" width="6.1" height="3.40" fill="#f07d8a"/>
<rect x="373.57" y="329.30" width="6.1" height="3.60" fill="#f26cb4"/>
<rect x="373.57" y="332.90" width="6.1" height="2.20" fill="#96c93d"/>
<rect x="380.12" y="368.80" width="6.1" height="23.20" fill="#0686f8"/>
<rect x="380.12" y="355.90" width="6.1" height="12.90" fill="#05c6a0"/>
<rect x="380.12" y="345.30" width="6.1" height="10.60" fill="#ffbb24"/>
<rect x="380.12" y="339.20" width="6.1" height="3.36" fill="#f4593f"/>
<rect x="380.12" y="342.56" width="6.1" height="2.75" fill="#fa7d3d"/>
<rect x="380.12" y="336.60" width="6.1" height="2.60" fill="#4b7cb2"/>
<rect x="380.12" y="329.30" width="6.1" height="1.40" fill="#4fd6cf"/>
<rect x="380.12" y="330.70" width="6.1" height="1.50" fill="#f26cb4"/>
<rect x="380.12" y="332.20" width="6.1" height="4.40" fill="#96c93d"/>
<rect x="386.66" y="361.80" width="6.1" height="30.20" fill="#0686f8"/>
<rect x="386.66" y="349.00" width="6.1" height="12.80" fill="#05c6a0"/>
<rect x="386.66" y="335.10" width="6.1" height="13.90" fill="#ffbb24"/>
<rect x="386.66" y="328.50" width="6.1" height="3.63" fill="#f4593f"/>
<rect x="386.66" y="332.13" width="6.1" height="2.97" fill="#fa7d3d"/>
<rect x="386.66" y="324.90" width="6.1" height="3.60" fill="#4b7cb2"/>
<rect x="386.66" y="316.00" width="6.1" height="5.20" fill="#f07d8a"/>
<rect x="386.66" y="321.20" width="6.1" height="1.40" fill="#4fd6cf"/>
<rect x="386.66" y="322.60" width="6.1" height="2.30" fill="#96c93d"/>
<rect x="393.20" y="370.00" width="6.1" height="22.00" fill="#0686f8"/>
<rect x="393.20" y="359.30" width="6.1" height="10.70" fill="#05c6a0"/>
<rect x="393.20" y="349.00" width="6.1" height="10.30" fill="#ffbb24"/>
<rect x="393.20" y="341.00" width="6.1" height="4.40" fill="#f4593f"/>
<rect x="393.20" y="345.40" width="6.1" height="3.60" fill="#fa7d3d"/>
<rect x="393.20" y="337.40" width="6.1" height="3.60" fill="#4b7cb2"/>
<rect x="393.20" y="333.70" width="6.1" height="1.40" fill="#f26cb4"/>
<rect x="393.20" y="335.10" width="6.1" height="2.30" fill="#4fd6cf"/>
<rect x="399.74" y="374.70" width="6.1" height="17.30" fill="#0686f8"/>
<rect x="399.74" y="368.10" width="6.1" height="6.60" fill="#05c6a0"/>
<rect x="399.74" y="360.70" width="6.1" height="7.40" fill="#ffbb24"/>
<rect x="399.74" y="355.60" width="6.1" height="2.81" fill="#f4593f"/>
<rect x="399.74" y="358.41" width="6.1" height="2.29" fill="#fa7d3d"/>
<rect x="399.74" y="353.40" width="6.1" height="2.20" fill="#4b7cb2"/>
<rect x="399.74" y="349.70" width="6.1" height="0.70" fill="#d9a33b"/>
<rect x="399.74" y="350.40" width="6.1" height="1.60" fill="#f26cb4"/>
<rect x="399.74" y="352.00" width="6.1" height="1.40" fill="#a7a9dc"/>
<rect x="406.28" y="361.80" width="6.1" height="30.20" fill="#0686f8"/>
<rect x="406.28" y="353.80" width="6.1" height="8.00" fill="#05c6a0"/>
<rect x="406.28" y="346.80" width="6.1" height="7.00" fill="#ffbb24"/>
<rect x="406.28" y="339.20" width="6.1" height="4.18" fill="#f4593f"/>
<rect x="406.28" y="343.38" width="6.1" height="3.42" fill="#fa7d3d"/>
<rect x="406.28" y="337.40" width="6.1" height="1.80" fill="#4b7cb2"/>
<rect x="406.28" y="331.80" width="6.1" height="1.40" fill="#f26cb4"/>
<rect x="406.28" y="333.20" width="6.1" height="4.20" fill="#96c93d"/>
<rect x="412.83" y="359.70" width="6.1" height="32.30" fill="#0686f8"/>
<rect x="412.83" y="343.00" width="6.1" height="16.70" fill="#05c6a0"/>
<rect x="412.83" y="328.80" width="6.1" height="14.20" fill="#ffbb24"/>
<rect x="412.83" y="313.10" width="6.1" height="8.63" fill="#f4593f"/>
<rect x="412.83" y="321.74" width="6.1" height="7.06" fill="#fa7d3d"/>
<rect x="412.83" y="308.70" width="6.1" height="4.40" fill="#4b7cb2"/>
<rect x="412.83" y="300.60" width="6.1" height="1.50" fill="#d9a33b"/>
<rect x="412.83" y="302.10" width="6.1" height="2.20" fill="#f26cb4"/>
<rect x="412.83" y="304.30" width="6.1" height="2.20" fill="#4fd6cf"/>
<rect x="412.83" y="306.50" width="6.1" height="2.20" fill="#96c93d"/>
<rect x="419.37" y="372.10" width="6.1" height="19.90" fill="#0686f8"/>
<rect x="419.37" y="358.20" width="6.1" height="13.90" fill="#05c6a0"/>
<rect x="419.37" y="346.00" width="6.1" height="12.20" fill="#ffbb24"/>
<rect x="419.37" y="338.90" width="6.1" height="3.91" fill="#f4593f"/>
<rect x="419.37" y="342.81" width="6.1" height="3.19" fill="#fa7d3d"/>
<rect x="419.37" y="336.60" width="6.1" height="2.30" fill="#4b7cb2"/>
<rect x="419.37" y="331.50" width="6.1" height="2.20" fill="#f26cb4"/>
<rect x="419.37" y="333.70" width="6.1" height="2.90" fill="#96c93d"/>
<rect x="425.91" y="365.90" width="6.1" height="26.10" fill="#0686f8"/>
<rect x="425.91" y="352.90" width="6.1" height="13.00" fill="#05c6a0"/>
<rect x="425.91" y="340.90" width="6.1" height="12.00" fill="#ffbb24"/>
<rect x="425.91" y="334.70" width="6.1" height="3.41" fill="#f4593f"/>
<rect x="425.91" y="338.11" width="6.1" height="2.79" fill="#fa7d3d"/>
<rect x="425.91" y="330.70" width="6.1" height="4.00" fill="#4b7cb2"/>
<rect x="425.91" y="325.60" width="6.1" height="2.90" fill="#f26cb4"/>
<rect x="425.91" y="328.50" width="6.1" height="2.20" fill="#4fd6cf"/>
<rect x="432.45" y="369.10" width="6.1" height="22.90" fill="#0686f8"/>
<rect x="432.45" y="355.30" width="6.1" height="13.80" fill="#05c6a0"/>
<rect x="432.45" y="346.00" width="6.1" height="9.30" fill="#ffbb24"/>
<rect x="432.45" y="337.80" width="6.1" height="4.51" fill="#f4593f"/>
<rect x="432.45" y="342.31" width="6.1" height="3.69" fill="#fa7d3d"/>
<rect x="432.45" y="334.70" width="6.1" height="3.10" fill="#4b7cb2"/>
<rect x="432.45" y="326.30" width="6.1" height="3.70" fill="#d9a33b"/>
<rect x="432.45" y="330.00" width="6.1" height="2.90" fill="#f26cb4"/>
<rect x="432.45" y="332.90" width="6.1" height="1.80" fill="#96c93d"/>
<rect x="438.99" y="375.40" width="6.1" height="16.60" fill="#0686f8"/>
<rect x="438.99" y="365.10" width="6.1" height="10.30" fill="#05c6a0"/>
<rect x="438.99" y="357.10" width="6.1" height="8.00" fill="#ffbb24"/>
<rect x="438.99" y="352.90" width="6.1" height="2.31" fill="#f4593f"/>
<rect x="438.99" y="355.21" width="6.1" height="1.89" fill="#fa7d3d"/>
<rect x="438.99" y="350.90" width="6.1" height="2.00" fill="#4b7cb2"/>
<rect x="438.99" y="346.00" width="6.1" height="1.50" fill="#f26cb4"/>
<rect x="438.99" y="347.50" width="6.1" height="2.20" fill="#a7a9dc"/>
<rect x="438.99" y="349.70" width="6.1" height="1.20" fill="#96c93d"/>
<rect x="445.54" y="382.10" width="6.1" height="9.90" fill="#0686f8"/>
<rect x="445.54" y="375.00" width="6.1" height="7.10" fill="#05c6a0"/>
<rect x="445.54" y="369.60" width="6.1" height="5.40" fill="#ffbb24"/>
<rect x="445.54" y="367.40" width="6.1" height="1.21" fill="#f4593f"/>
<rect x="445.54" y="368.61" width="6.1" height="0.99" fill="#fa7d3d"/>
<rect x="445.54" y="365.90" width="6.1" height="1.50" fill="#4b7cb2"/>
<rect x="445.54" y="361.90" width="6.1" height="1.80" fill="#f26cb4"/>
<rect x="445.54" y="363.70" width="6.1" height="2.20" fill="#a7a9dc"/>
<rect x="452.08" y="382.80" width="6.1" height="9.20" fill="#0686f8"/>
<rect x="452.08" y="375.40" width="6.1" height="7.40" fill="#05c6a0"/>
<rect x="452.08" y="368.10" width="6.1" height="7.30" fill="#ffbb24"/>
<rect x="452.08" y="364.40" width="6.1" height="2.04" fill="#f4593f"/>
<rect x="452.08" y="366.44" width="6.1" height="1.67" fill="#fa7d3d"/>
<rect x="452.08" y="363.70" width="6.1" height="0.70" fill="#4b7cb2"/>
<rect x="452.08" y="359.00" width="6.1" height="1.30" fill="#f26cb4"/>
<rect x="452.08" y="360.30" width="6.1" height="1.90" fill="#a7a9dc"/>
<rect x="452.08" y="362.20" width="6.1" height="1.50" fill="#96c93d"/>
<rect x="458.62" y="379.00" width="6.1" height="13.00" fill="#0686f8"/>
<rect x="458.62" y="368.50" width="6.1" height="10.50" fill="#05c6a0"/>
<rect x="458.62" y="357.10" width="6.1" height="11.40" fill="#ffbb24"/>
<rect x="458.62" y="351.20" width="6.1" height="3.25" fill="#f4593f"/>
<rect x="458.62" y="354.44" width="6.1" height="2.66" fill="#fa7d3d"/>
<rect x="458.62" y="347.50" width="6.1" height="3.70" fill="#4b7cb2"/>
<rect x="458.62" y="341.80" width="6.1" height="2.80" fill="#f26cb4"/>
<rect x="458.62" y="344.60" width="6.1" height="2.90" fill="#a7a9dc"/>
<rect x="465.16" y="378.40" width="6.1" height="13.60" fill="#0686f8"/>
<rect x="465.16" y="365.60" width="6.1" height="12.80" fill="#05c6a0"/>
<rect x="465.16" y="344.10" width="6.1" height="21.50" fill="#ffbb24"/>
<rect x="465.16" y="339.30" width="6.1" height="2.64" fill="#f4593f"/>
<rect x="465.16" y="341.94" width="6.1" height="2.16" fill="#fa7d3d"/>
<rect x="465.16" y="337.40" width="6.1" height="1.90" fill="#4b7cb2"/>
<rect x="465.16" y="331.50" width="6.1" height="1.10" fill="#d9a33b"/>
<rect x="465.16" y="332.60" width="6.1" height="1.80" fill="#f26cb4"/>
<rect x="465.16" y="334.40" width="6.1" height="3.00" fill="#96c93d"/>
<rect x="471.70" y="378.80" width="6.1" height="13.20" fill="#0686f8"/>
<rect x="471.70" y="361.50" width="6.1" height="17.30" fill="#05c6a0"/>
<rect x="471.70" y="345.00" width="6.1" height="16.50" fill="#ffbb24"/>
<rect x="471.70" y="339.10" width="6.1" height="3.25" fill="#f4593f"/>
<rect x="471.70" y="342.35" width="6.1" height="2.65" fill="#fa7d3d"/>
<rect x="471.70" y="336.60" width="6.1" height="2.50" fill="#4b7cb2"/>
<rect x="471.70" y="330.70" width="6.1" height="2.50" fill="#f26cb4"/>
<rect x="471.70" y="333.20" width="6.1" height="1.50" fill="#4fd6cf"/>
<rect x="471.70" y="334.70" width="6.1" height="1.90" fill="#96c93d"/>
<rect x="478.25" y="377.60" width="6.1" height="14.40" fill="#0686f8"/>
<rect x="478.25" y="360.70" width="6.1" height="16.90" fill="#05c6a0"/>
<rect x="478.25" y="336.40" width="6.1" height="24.30" fill="#ffbb24"/>
<rect x="478.25" y="332.60" width="6.1" height="2.09" fill="#f4593f"/>
<rect x="478.25" y="334.69" width="6.1" height="1.71" fill="#fa7d3d"/>
<rect x="478.25" y="329.70" width="6.1" height="2.90" fill="#4b7cb2"/>
<rect x="478.25" y="321.50" width="6.1" height="1.10" fill="#d9a33b"/>
<rect x="478.25" y="322.60" width="6.1" height="3.00" fill="#f26cb4"/>
<rect x="478.25" y="325.60" width="6.1" height="1.20" fill="#4fd6cf"/>
<rect x="478.25" y="326.80" width="6.1" height="2.90" fill="#96c93d"/>
<rect x="484.79" y="380.60" width="6.1" height="11.40" fill="#0686f8"/>
<rect x="484.79" y="369.10" width="6.1" height="11.50" fill="#05c6a0"/>
<rect x="484.79" y="347.50" width="6.1" height="21.60" fill="#ffbb24"/>
<rect x="484.79" y="343.10" width="6.1" height="2.42" fill="#f4593f"/>
<rect x="484.79" y="345.52" width="6.1" height="1.98" fill="#fa7d3d"/>
<rect x="484.79" y="339.10" width="6.1" height="4.00" fill="#4b7cb2"/>
<rect x="484.79" y="333.70" width="6.1" height="2.90" fill="#f26cb4"/>
<rect x="484.79" y="336.60" width="6.1" height="2.50" fill="#96c93d"/>
<rect x="491.33" y="383.80" width="6.1" height="8.20" fill="#0686f8"/>
<rect x="491.33" y="375.00" width="6.1" height="8.80" fill="#05c6a0"/>
<rect x="491.33" y="369.60" width="6.1" height="5.40" fill="#ffbb24"/>
<rect x="491.33" y="365.90" width="6.1" height="2.04" fill="#f4593f"/>
<rect x="491.33" y="367.94" width="6.1" height="1.67" fill="#fa7d3d"/>
<rect x="491.33" y="364.40" width="6.1" height="1.50" fill="#4b7cb2"/>
<rect x="491.33" y="361.20" width="6.1" height="1.80" fill="#f26cb4"/>
<rect x="491.33" y="363.00" width="6.1" height="1.40" fill="#a7a9dc"/>
<rect x="497.87" y="384.30" width="6.1" height="7.70" fill="#0686f8"/>
<rect x="497.87" y="375.00" width="6.1" height="9.30" fill="#05c6a0"/>
<rect x="497.87" y="369.60" width="6.1" height="5.40" fill="#ffbb24"/>
<rect x="497.87" y="365.60" width="6.1" height="2.20" fill="#f4593f"/>
<rect x="497.87" y="367.80" width="6.1" height="1.80" fill="#fa7d3d"/>
<rect x="497.87" y="363.70" width="6.1" height="1.90" fill="#4b7cb2"/>
<rect x="497.87" y="360.30" width="6.1" height="1.70" fill="#f26cb4"/>
<rect x="497.87" y="362.00" width="6.1" height="1.70" fill="#a7a9dc"/>
<rect x="504.41" y="378.80" width="6.1" height="13.20" fill="#0686f8"/>
<rect x="504.41" y="365.60" width="6.1" height="13.20" fill="#05c6a0"/>
<rect x="504.41" y="357.10" width="6.1" height="8.50" fill="#ffbb24"/>
<rect x="504.41" y="352.60" width="6.1" height="2.48" fill="#f4593f"/>
<rect x="504.41" y="355.08" width="6.1" height="2.02" fill="#fa7d3d"/>
<rect x="504.41" y="349.70" width="6.1" height="2.90" fill="#4b7cb2"/>
<rect x="504.41" y="342.90" width="6.1" height="2.40" fill="#f26cb4"/>
<rect x="504.41" y="345.30" width="6.1" height="1.50" fill="#a7a9dc"/>
<rect x="504.41" y="346.80" width="6.1" height="2.90" fill="#96c93d"/>
<rect x="510.96" y="379.90" width="6.1" height="12.10" fill="#0686f8"/>
<rect x="510.96" y="366.60" width="6.1" height="13.30" fill="#05c6a0"/>
<rect x="510.96" y="353.40" width="6.1" height="13.20" fill="#ffbb24"/>
<rect x="510.96" y="349.00" width="6.1" height="2.42" fill="#f4593f"/>
<rect x="510.96" y="351.42" width="6.1" height="1.98" fill="#fa7d3d"/>
<rect x="510.96" y="346.80" width="6.1" height="2.20" fill="#4b7cb2"/>
<rect x="510.96" y="340.00" width="6.1" height="3.20" fill="#f26cb4"/>
<rect x="510.96" y="343.20" width="6.1" height="1.40" fill="#4fd6cf"/>
<rect x="510.96" y="344.60" width="6.1" height="2.20" fill="#96c93d"/>
<rect x="517.50" y="379.90" width="6.1" height="12.10" fill="#0686f8"/>
<rect x="517.50" y="365.10" width="6.1" height="14.80" fill="#05c6a0"/>
<rect x="517.50" y="349.00" width="6.1" height="16.10" fill="#ffbb24"/>
<rect x="517.50" y="343.80" width="6.1" height="2.86" fill="#f4593f"/>
<rect x="517.50" y="346.66" width="6.1" height="2.34" fill="#fa7d3d"/>
<rect x="517.50" y="340.90" width="6.1" height="2.90" fill="#4b7cb2"/>
<rect x="517.50" y="331.20" width="6.1" height="2.50" fill="#f07d8a"/>
<rect x="517.50" y="333.70" width="6.1" height="3.70" fill="#f26cb4"/>
<rect x="517.50" y="337.40" width="6.1" height="3.50" fill="#96c93d"/>
<rect x="524.04" y="378.40" width="6.1" height="13.60" fill="#0686f8"/>
<rect x="524.04" y="362.90" width="6.1" height="15.50" fill="#05c6a0"/>
<rect x="524.04" y="351.20" width="6.1" height="11.70" fill="#ffbb24"/>
<rect x="524.04" y="345.30" width="6.1" height="3.25" fill="#f4593f"/>
<rect x="524.04" y="348.55" width="6.1" height="2.65" fill="#fa7d3d"/>
<rect x="524.04" y="343.00" width="6.1" height="2.30" fill="#4b7cb2"/>
<rect x="524.04" y="334.70" width="6.1" height="5.30" fill="#f26cb4"/>
<rect x="524.04" y="340.00" width="6.1" height="3.00" fill="#96c93d"/>
<rect x="530.58" y="380.60" width="6.1" height="11.40" fill="#0686f8"/>
<rect x="530.58" y="361.80" width="6.1" height="18.80" fill="#05c6a0"/>
<rect x="530.58" y="350.90" width="6.1" height="10.90" fill="#ffbb24"/>
<rect x="530.58" y="346.80" width="6.1" height="2.25" fill="#f4593f"/>
<rect x="530.58" y="349.06" width="6.1" height="1.84" fill="#fa7d3d"/>
<rect x="530.58" y="343.10" width="6.1" height="3.70" fill="#4b7cb2"/>
<rect x="530.58" y="334.70" width="6.1" height="1.90" fill="#f07d8a"/>
<rect x="530.58" y="336.60" width="6.1" height="5.20" fill="#f26cb4"/>
<rect x="530.58" y="341.80" width="6.1" height="1.30" fill="#96c93d"/>
<rect x="537.12" y="383.20" width="6.1" height="8.80" fill="#0686f8"/>
<rect x="537.12" y="367.10" width="6.1" height="16.10" fill="#05c6a0"/>
<rect x="537.12" y="358.50" width="6.1" height="8.60" fill="#ffbb24"/>
<rect x="537.12" y="355.60" width="6.1" height="1.59" fill="#f4593f"/>
<rect x="537.12" y="357.19" width="6.1" height="1.31" fill="#fa7d3d"/>
<rect x="537.12" y="352.60" width="6.1" height="3.00" fill="#4b7cb2"/>
<rect x="537.12" y="349.00" width="6.1" height="1.40" fill="#f26cb4"/>
<rect x="537.12" y="350.40" width="6.1" height="2.20" fill="#a7a9dc"/>
<rect x="543.67" y="382.80" width="6.1" height="9.20" fill="#0686f8"/>
<rect x="543.67" y="368.10" width="6.1" height="14.70" fill="#05c6a0"/>
<rect x="543.67" y="357.80" width="6.1" height="10.30" fill="#ffbb24"/>
<rect x="543.67" y="353.40" width="6.1" height="2.42" fill="#f4593f"/>
<rect x="543.67" y="355.82" width="6.1" height="1.98" fill="#fa7d3d"/>
<rect x="543.67" y="352.60" width="6.1" height="0.80" fill="#4b7cb2"/>
<rect x="543.67" y="347.90" width="6.1" height="1.80" fill="#f26cb4"/>
<rect x="543.67" y="349.70" width="6.1" height="2.30" fill="#a7a9dc"/>
<rect x="543.67" y="352.00" width="6.1" height="0.60" fill="#96c93d"/>
<rect x="550.21" y="378.40" width="6.1" height="13.60" fill="#0686f8"/>
<rect x="550.21" y="357.80" width="6.1" height="20.60" fill="#05c6a0"/>
<rect x="550.21" y="345.60" width="6.1" height="12.20" fill="#ffbb24"/>
<rect x="550.21" y="340.90" width="6.1" height="2.59" fill="#f4593f"/>
<rect x="550.21" y="343.49" width="6.1" height="2.12" fill="#fa7d3d"/>
<rect x="550.21" y="334.70" width="6.1" height="6.20" fill="#4b7cb2"/>
<rect x="550.21" y="327.10" width="6.1" height="1.40" fill="#d9a33b"/>
<rect x="550.21" y="328.50" width="6.1" height="3.00" fill="#f26cb4"/>
<rect x="550.21" y="331.50" width="6.1" height="3.20" fill="#96c93d"/>
<rect x="556.75" y="376.90" width="6.1" height="15.10" fill="#0686f8"/>
<rect x="556.75" y="354.10" width="6.1" height="22.80" fill="#05c6a0"/>
<rect x="556.75" y="343.10" width="6.1" height="11.00" fill="#ffbb24"/>
<rect x="556.75" y="337.10" width="6.1" height="3.30" fill="#f4593f"/>
<rect x="556.75" y="340.40" width="6.1" height="2.70" fill="#fa7d3d"/>
<rect x="556.75" y="334.10" width="6.1" height="3.00" fill="#4b7cb2"/>
<rect x="556.75" y="324.90" width="6.1" height="5.80" fill="#f26cb4"/>
<rect x="556.75" y="330.70" width="6.1" height="3.40" fill="#96c93d"/>
<rect x="563.29" y="372.10" width="6.1" height="19.90" fill="#0686f8"/>
<rect x="563.29" y="352.40" width="6.1" height="19.70" fill="#05c6a0"/>
<rect x="563.29" y="338.70" width="6.1" height="13.70" fill="#ffbb24"/>
<rect x="563.29" y="333.70" width="6.1" height="2.75" fill="#f4593f"/>
<rect x="563.29" y="336.45" width="6.1" height="2.25" fill="#fa7d3d"/>
<rect x="563.29" y="330.00" width="6.1" height="3.70" fill="#4b7cb2"/>
<rect x="563.29" y="323.40" width="6.1" height="2.50" fill="#f26cb4"/>
<rect x="563.29" y="325.90" width="6.1" height="1.90" fill="#4fd6cf"/>
<rect x="563.29" y="327.80" width="6.1" height="2.20" fill="#96c93d"/>
<rect x="569.83" y="376.90" width="6.1" height="15.10" fill="#0686f8"/>
<rect x="569.83" y="357.10" width="6.1" height="19.80" fill="#05c6a0"/>
<rect x="569.83" y="300.90" width="6.1" height="56.20" fill="#ffbb24"/>
<rect x="569.83" y="296.20" width="6.1" height="2.58" fill="#f4593f"/>
<rect x="569.83" y="298.78" width="6.1" height="2.12" fill="#fa7d3d"/>
<rect x="569.83" y="292.50" width="6.1" height="3.70" fill="#4b7cb2"/>
<rect x="569.83" y="286.30" width="6.1" height="2.20" fill="#f26cb4"/>
<rect x="569.83" y="288.50" width="6.1" height="2.10" fill="#a7a9dc"/>
<rect x="569.83" y="290.60" width="6.1" height="1.90" fill="#96c93d"/>
<rect x="576.38" y="379.90" width="6.1" height="12.10" fill="#0686f8"/>
<rect x="576.38" y="363.20" width="6.1" height="16.70" fill="#05c6a0"/>
<rect x="576.38" y="334.10" width="6.1" height="29.10" fill="#ffbb24"/>
<rect x="576.38" y="329.70" width="6.1" height="2.42" fill="#f4593f"/>
<rect x="576.38" y="332.12" width="6.1" height="1.98" fill="#fa7d3d"/>
<rect x="576.38" y="327.00" width="6.1" height="2.70" fill="#4b7cb2"/>
<rect x="576.38" y="321.20" width="6.1" height="2.90" fill="#f26cb4"/>
<rect x="576.38" y="324.10" width="6.1" height="2.90" fill="#4fd6cf"/>
<rect x="582.92" y="382.40" width="6.1" height="9.60" fill="#0686f8"/>
<rect x="582.92" y="368.50" width="6.1" height="13.90" fill="#05c6a0"/>
<rect x="582.92" y="359.70" width="6.1" height="8.80" fill="#ffbb24"/>
<rect x="582.92" y="356.30" width="6.1" height="1.87" fill="#f4593f"/>
<rect x="582.92" y="358.17" width="6.1" height="1.53" fill="#fa7d3d"/>
<rect x="582.92" y="354.90" width="6.1" height="1.40" fill="#4b7cb2"/>
<rect x="582.92" y="349.70" width="6.1" height="2.20" fill="#f26cb4"/>
<rect x="582.92" y="351.90" width="6.1" height="1.60" fill="#a7a9dc"/>
<rect x="582.92" y="353.50" width="6.1" height="1.40" fill="#96c93d"/>
<rect x="589.46" y="383.20" width="6.1" height="8.80" fill="#0686f8"/>
<rect x="589.46" y="368.50" width="6.1" height="14.70" fill="#05c6a0"/>
<rect x="589.46" y="358.20" width="6.1" height="10.30" fill="#ffbb24"/>
<rect x="589.46" y="354.90" width="6.1" height="1.81" fill="#f4593f"/>
<rect x="589.46" y="356.71" width="6.1" height="1.49" fill="#fa7d3d"/>
<rect x="589.46" y="351.20" width="6.1" height="3.70" fill="#4b7cb2"/>
<rect x="589.46" y="347.10" width="6.1" height="1.90" fill="#f26cb4"/>
<rect x="589.46" y="349.00" width="6.1" height="2.20" fill="#a7a9dc"/>
<rect x="596.00" y="376.20" width="6.1" height="15.80" fill="#0686f8"/>
<rect x="596.00" y="358.20" width="6.1" height="18.00" fill="#05c6a0"/>
<rect x="596.00" y="343.50" width="6.1" height="14.70" fill="#ffbb24"/>
<rect x="596.00" y="337.60" width="6.1" height="3.25" fill="#f4593f"/>
<rect x="596.00" y="340.85" width="6.1" height="2.65" fill="#fa7d3d"/>
<rect x="596.00" y="332.20" width="6.1" height="5.40" fill="#4b7cb2"/>
<rect x="596.00" y="322.90" width="6.1" height="2.70" fill="#d9a33b"/>
<rect x="596.00" y="325.60" width="6.1" height="3.70" fill="#f26cb4"/>
<rect x="596.00" y="329.30" width="6.1" height="2.90" fill="#96c93d"/>
<rect x="602.54" y="376.20" width="6.1" height="15.80" fill="#0686f8"/>
<rect x="602.54" y="357.80" width="6.1" height="18.40" fill="#05c6a0"/>
<rect x="602.54" y="343.10" width="6.1" height="14.70" fill="#ffbb24"/>
<rect x="602.54" y="336.20" width="6.1" height="3.80" fill="#f4593f"/>
<rect x="602.54" y="340.00" width="6.1" height="3.11" fill="#fa7d3d"/>
<rect x="602.54" y="330.00" width="6.1" height="6.20" fill="#4b7cb2"/>
<rect x="602.54" y="323.40" width="6.1" height="3.40" fill="#f26cb4"/>
<rect x="602.54" y="326.80" width="6.1" height="3.20" fill="#4fd6cf"/>
<rect x="609.09" y="356.30" width="6.1" height="35.70" fill="#0686f8"/>
<rect x="609.09" y="338.40" width="6.1" height="17.90" fill="#05c6a0"/>
<rect x="609.09" y="320.40" width="6.1" height="18.00" fill="#ffbb24"/>
<rect x="609.09" y="316.00" width="6.1" height="2.42" fill="#f4593f"/>
<rect x="609.09" y="318.42" width="6.1" height="1.98" fill="#fa7d3d"/>
<rect x="609.09" y="313.10" width="6.1" height="2.90" fill="#4b7cb2"/>
<rect x="609.09" y="305.00" width="6.1" height="3.70" fill="#f26cb4"/>
<rect x="609.09" y="308.70" width="6.1" height="2.20" fill="#4fd6cf"/>
<rect x="609.09" y="310.90" width="6.1" height="2.20" fill="#96c93d"/>
<rect x="615.63" y="365.60" width="6.1" height="26.40" fill="#0686f8"/>
<rect x="615.63" y="347.10" width="6.1" height="18.50" fill="#05c6a0"/>
<rect x="615.63" y="324.90" width="6.1" height="22.20" fill="#ffbb24"/>
<rect x="615.63" y="320.40" width="6.1" height="2.48" fill="#f4593f"/>
<rect x="615.63" y="322.88" width="6.1" height="2.02" fill="#fa7d3d"/>
<rect x="615.63" y="317.50" width="6.1" height="2.90" fill="#4b7cb2"/>
<rect x="615.63" y="307.90" width="6.1" height="5.20" fill="#f26cb4"/>
<rect x="615.63" y="313.10" width="6.1" height="4.40" fill="#96c93d"/>
<rect x="622.17" y="373.50" width="6.1" height="18.50" fill="#0686f8"/>
<rect x="622.17" y="354.90" width="6.1" height="18.60" fill="#05c6a0"/>
<rect x="622.17" y="338.60" width="6.1" height="16.30" fill="#ffbb24"/>
<rect x="622.17" y="333.70" width="6.1" height="2.69" fill="#f4593f"/>
<rect x="622.17" y="336.39" width="6.1" height="2.21" fill="#fa7d3d"/>
<rect x="622.17" y="330.70" width="6.1" height="3.00" fill="#4b7cb2"/>
<rect x="622.17" y="322.60" width="6.1" height="4.20" fill="#f26cb4"/>
<rect x="622.17" y="326.80" width="6.1" height="3.90" fill="#96c93d"/>
<rect x="628.71" y="383.20" width="6.1" height="8.80" fill="#0686f8"/>
<rect x="628.71" y="368.10" width="6.1" height="15.10" fill="#05c6a0"/>
<rect x="628.71" y="347.90" width="6.1" height="20.20" fill="#ffbb24"/>
<rect x="628.71" y="345.00" width="6.1" height="1.59" fill="#f4593f"/>
<rect x="628.71" y="346.59" width="6.1" height="1.31" fill="#fa7d3d"/>
<rect x="628.71" y="343.10" width="6.1" height="1.90" fill="#4b7cb2"/>
<rect x="628.71" y="337.40" width="6.1" height="2.60" fill="#f26cb4"/>
<rect x="628.71" y="340.00" width="6.1" height="3.10" fill="#4fd6cf"/>
<rect x="635.25" y="383.80" width="6.1" height="8.20" fill="#0686f8"/>
<rect x="635.25" y="373.50" width="6.1" height="10.30" fill="#05c6a0"/>
<rect x="635.25" y="357.10" width="6.1" height="16.40" fill="#ffbb24"/>
<rect x="635.25" y="352.40" width="6.1" height="2.59" fill="#f4593f"/>
<rect x="635.25" y="354.99" width="6.1" height="2.12" fill="#fa7d3d"/>
<rect x="635.25" y="349.70" width="6.1" height="2.70" fill="#4b7cb2"/>
<rect x="635.25" y="345.00" width="6.1" height="2.00" fill="#f26cb4"/>
<rect x="635.25" y="347.00" width="6.1" height="2.70" fill="#4fd6cf"/>
<rect x="641.80" y="379.90" width="6.1" height="12.10" fill="#0686f8"/>
<rect x="641.80" y="358.20" width="6.1" height="21.70" fill="#05c6a0"/>
<rect x="641.80" y="332.60" width="6.1" height="25.60" fill="#ffbb24"/>
<rect x="641.80" y="322.60" width="6.1" height="5.50" fill="#f4593f"/>
<rect x="641.80" y="328.10" width="6.1" height="4.50" fill="#fa7d3d"/>
<rect x="641.80" y="319.00" width="6.1" height="3.60" fill="#4b7cb2"/>
<rect x="641.80" y="312.40" width="6.1" height="4.10" fill="#f26cb4"/>
<rect x="641.80" y="316.50" width="6.1" height="2.50" fill="#4fd6cf"/>
<rect x="648.34" y="381.80" width="6.1" height="10.20" fill="#0686f8"/>
<rect x="648.34" y="368.10" width="6.1" height="13.70" fill="#05c6a0"/>
<rect x="648.34" y="350.90" width="6.1" height="17.20" fill="#ffbb24"/>
<rect x="648.34" y="345.30" width="6.1" height="3.08" fill="#f4593f"/>
<rect x="648.34" y="348.38" width="6.1" height="2.52" fill="#fa7d3d"/>
<rect x="648.34" y="342.40" width="6.1" height="2.90" fill="#4b7cb2"/>
<rect x="648.34" y="337.10" width="6.1" height="2.50" fill="#f26cb4"/>
<rect x="648.34" y="339.60" width="6.1" height="2.80" fill="#96c93d"/>
</g>
</svg>
<div class="abs" id="title">OpenAI</div>
<div class="abs" id="sub">Browse models provided by OpenAI (<span>Terms of Service</span>)</div>
<div class="abs" id="count">31 models</div>
<div class="abs" id="tok">Tokens processed</div>
</body></html>
